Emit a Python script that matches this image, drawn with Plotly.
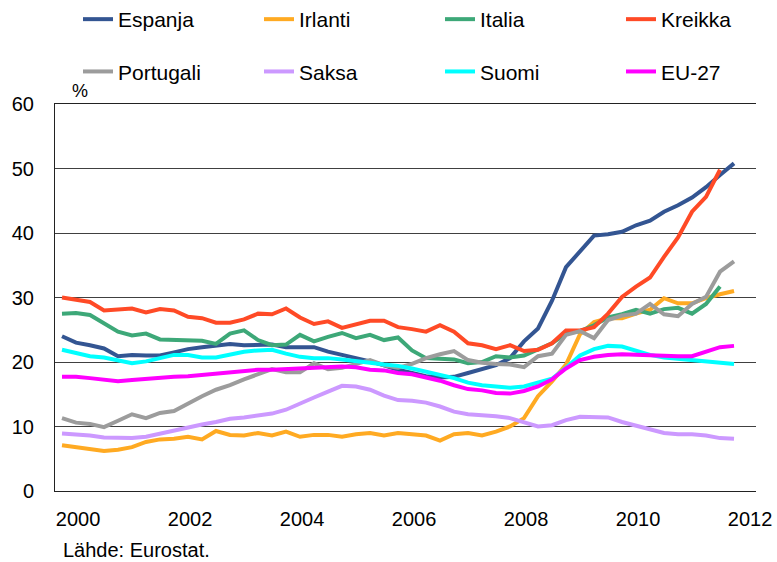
import plotly.graph_objects as go

# Quarterly data 2000Q1 .. 2012Q1 (%)
quarters = [f"{y}Q{q}" for y in range(2000, 2013) for q in range(1, 5)][:49]
year_labels = ["2000", "2002", "2004", "2006", "2008", "2010", "2012"]

espanja = [24.0, 23.0, 22.6, 22.1, 20.9, 21.1, 21.0, 21.0, 21.5, 22.0, 22.3, 22.6, 22.8, 22.6, 22.7, 22.7,
           22.3, 22.3, 22.3, 21.6, 21.1, 20.7, 20.1, 19.5, 18.8, 18.3, 17.8, 17.6, 17.7, 18.3, 18.9, 19.5,
           20.6, 23.2, 25.2, 29.5, 34.7, 37.1, 39.6, 39.8, 40.2, 41.2, 41.9, 43.3, 44.3, 45.5, 47.1, 49.0, 50.8]
irlanti = [7.1, 6.8, 6.4, 6.2, 6.4, 6.8, 7.6, 8.0, 8.1, 8.4, 8.0, 9.3, 8.7, 8.6, 9.0, 8.6,
           9.2, 8.4, 8.7, 8.7, 8.4, 8.8, 9.0, 8.6, 9.0, 8.8, 8.6, 7.8, 8.8, 9.0, 8.6, 9.2,
           10.0, 11.3, 14.7, 17.0, 19.6, 24.3, 26.2, 26.8, 26.8, 27.5, 28.1, 29.9, 29.1, 29.1, 29.9, 30.5, 31.0]
italia = [27.5, 27.6, 27.3, 26.0, 24.7, 24.1, 24.4, 23.5, 23.4, 23.3, 23.3, 22.8, 24.4, 24.9, 23.4, 22.6,
          22.7, 24.2, 23.2, 23.9, 24.5, 23.7, 24.2, 23.4, 23.8, 21.8, 20.6, 20.5, 20.4, 19.8, 20.0, 20.9,
          20.7, 21.0, 21.9, 22.9, 24.4, 24.8, 25.7, 26.9, 27.4, 28.1, 27.5, 28.2, 28.4, 27.5, 29.0, 31.7]
kreikka = [30.0, 29.7, 29.3, 28.0, 28.1, 28.3, 27.7, 28.2, 28.0, 27.0, 26.8, 26.1, 26.1, 26.6, 27.5, 27.4,
           28.3, 26.9, 25.9, 26.3, 25.3, 25.8, 26.4, 26.4, 25.4, 25.1, 24.7, 25.7, 24.7, 22.9, 22.6, 22.0,
           22.6, 21.7, 21.9, 22.9, 24.9, 24.9, 25.4, 27.5, 30.1, 31.7, 33.1, 36.3, 39.3, 43.3, 45.6, 49.8]
portugali = [11.3, 10.6, 10.4, 9.9, 10.9, 11.9, 11.3, 12.1, 12.4, 13.6, 14.7, 15.7, 16.4, 17.3, 18.1, 18.9,
             18.4, 18.4, 19.8, 18.9, 19.1, 19.7, 20.3, 19.5, 19.1, 19.7, 20.6, 21.2, 21.7, 20.3, 19.9, 19.7,
             19.6, 19.2, 20.9, 21.3, 24.2, 24.8, 23.7, 26.5, 27.2, 27.5, 29.0, 27.4, 27.1, 29.0, 30.1, 34.0, 35.6]
saksa = [8.9, 8.8, 8.6, 8.3, 8.2, 8.2, 8.4, 8.9, 9.4, 9.8, 10.3, 10.7, 11.2, 11.4, 11.7, 12.0,
         12.6, 13.6, 14.5, 15.4, 16.3, 16.2, 15.7, 14.8, 14.1, 14.0, 13.7, 13.1, 12.3, 11.9, 11.8, 11.6,
         11.3, 10.7, 10.0, 10.2, 11.0, 11.5, 11.5, 11.4, 10.7, 10.1, 9.5, 9.0, 8.8, 8.8, 8.6, 8.2, 8.1]
suomi = [21.9, 21.4, 20.9, 20.7, 20.2, 19.8, 20.1, 20.6, 21.1, 21.1, 20.7, 20.7, 21.2, 21.6, 21.8, 21.9,
         21.3, 20.8, 20.6, 20.6, 20.4, 20.2, 19.9, 19.6, 19.4, 19.0, 18.5, 18.0, 17.5, 16.8, 16.4, 16.2,
         16.0, 16.2, 16.8, 17.4, 19.1, 21.0, 22.0, 22.5, 22.4, 21.7, 21.1, 20.7, 20.5, 20.3, 20.1, 19.9, 19.7]
eu27 = [17.7, 17.7, 17.5, 17.3, 17.0, 17.2, 17.4, 17.6, 17.7, 17.8, 18.0, 18.1, 18.4, 18.6, 18.8, 18.8,
        18.9, 19.0, 19.1, 19.1, 19.3, 19.2, 18.8, 18.7, 18.3, 18.1, 17.6, 17.1, 16.4, 15.8, 15.6, 15.2,
        15.1, 15.5, 16.2, 17.3, 19.0, 20.3, 20.8, 21.1, 21.2, 21.1, 21.0, 20.9, 20.9, 20.9, 21.6, 22.3, 22.5]

# legend column for each series (4 columns x 2 rows)
series = [
    ("Espanja", espanja, "#335592", "legend"),
    ("Irlanti", irlanti, "#FFAA22", "legend2"),
    ("Italia", italia, "#3DA878", "legend3"),
    ("Kreikka", kreikka, "#FF4A26", "legend4"),
    ("Portugali", portugali, "#9C9C9C", "legend"),
    ("Saksa", saksa, "#CC99FF", "legend2"),
    ("Suomi", suomi, "#00FFFF", "legend3"),
    ("EU-27", eu27, "#FF00FF", "legend4"),
]

FONT = "Liberation Sans, Arial, sans-serif"
fig = go.Figure()
for name, vals, color, leg in series:
    fig.add_trace(go.Scatter(
        x=list(range(len(vals))), y=vals, name=name, mode="lines",
        line=dict(color=color, width=4), legend=leg, legendgroup=name,
    ))

xr = [-0.5, 49.57]
label_pos = [1.15 + 8 * k for k in range(len(year_labels))]
grid_col = "#404040"

def leg(px_left):
    return dict(orientation="v", x=(px_left - 55) / 701, xanchor="left",
                y=(491 + 1) / 387, yanchor="top", tracegroupgap=22,
                font=dict(size=21, family=FONT), bgcolor="rgba(0,0,0,0)", itemwidth=30)

fig.update_layout(
    width=777, height=562,
    margin=dict(l=55, r=21, t=104, b=71, autoexpand=False),
    paper_bgcolor="white", plot_bgcolor="white",
    font=dict(family=FONT, size=20, color="#000000"),
    xaxis=dict(range=xr, tickmode="array", tickvals=label_pos, ticktext=year_labels,
               showgrid=False, ticks="", zeroline=False, showline=True, linecolor="#222222",
               linewidth=1, mirror=True, tickfont=dict(size=20), ticklabelstandoff=10),
    xaxis2=dict(range=xr, overlaying="x", anchor="y", side="bottom", tickmode="linear",
                tick0=7.5, dtick=8, showgrid=True, gridcolor=grid_col, gridwidth=1,
                ticks="inside", ticklen=5, tickcolor="#222222", showticklabels=False,
                zeroline=False, showline=False,
                minor=dict(tick0=3.5, dtick=4, ticks="inside", ticklen=5, tickcolor="#222222",
                           showgrid=False)),
    yaxis=dict(range=[0, 60], tickmode="linear", tick0=0, dtick=10, showgrid=True,
               gridcolor=grid_col, gridwidth=1, zeroline=False, showline=True,
               linecolor="#222222", linewidth=1, ticks="", tickfont=dict(size=20),
               ticklabelstandoff=16),
    yaxis2=dict(range=[0, 60], overlaying="y", anchor="x", side="right", showgrid=False,
                showticklabels=False, ticks="", zeroline=False, showline=True,
                linecolor="#808080", linewidth=1),
    legend=leg(78), legend2=leg(259), legend3=leg(440), legend4=leg(621),
    showlegend=True,
    annotations=[
        dict(text="%", xref="paper", yref="paper", x=(70 - 55) / 701, y=(491 - 91) / 387,
             xanchor="left", yanchor="middle", showarrow=False, font=dict(size=18)),
        dict(text="Lähde: Eurostat.", xref="paper", yref="paper", x=(61 - 55) / 701,
             y=(491 - 550) / 387, xanchor="left", yanchor="middle", showarrow=False,
             font=dict(size=20)),
    ],
)

fig.write_html("out.html", config={"displayModeBar": False},
               post_script="document.body.style.margin='0';")
